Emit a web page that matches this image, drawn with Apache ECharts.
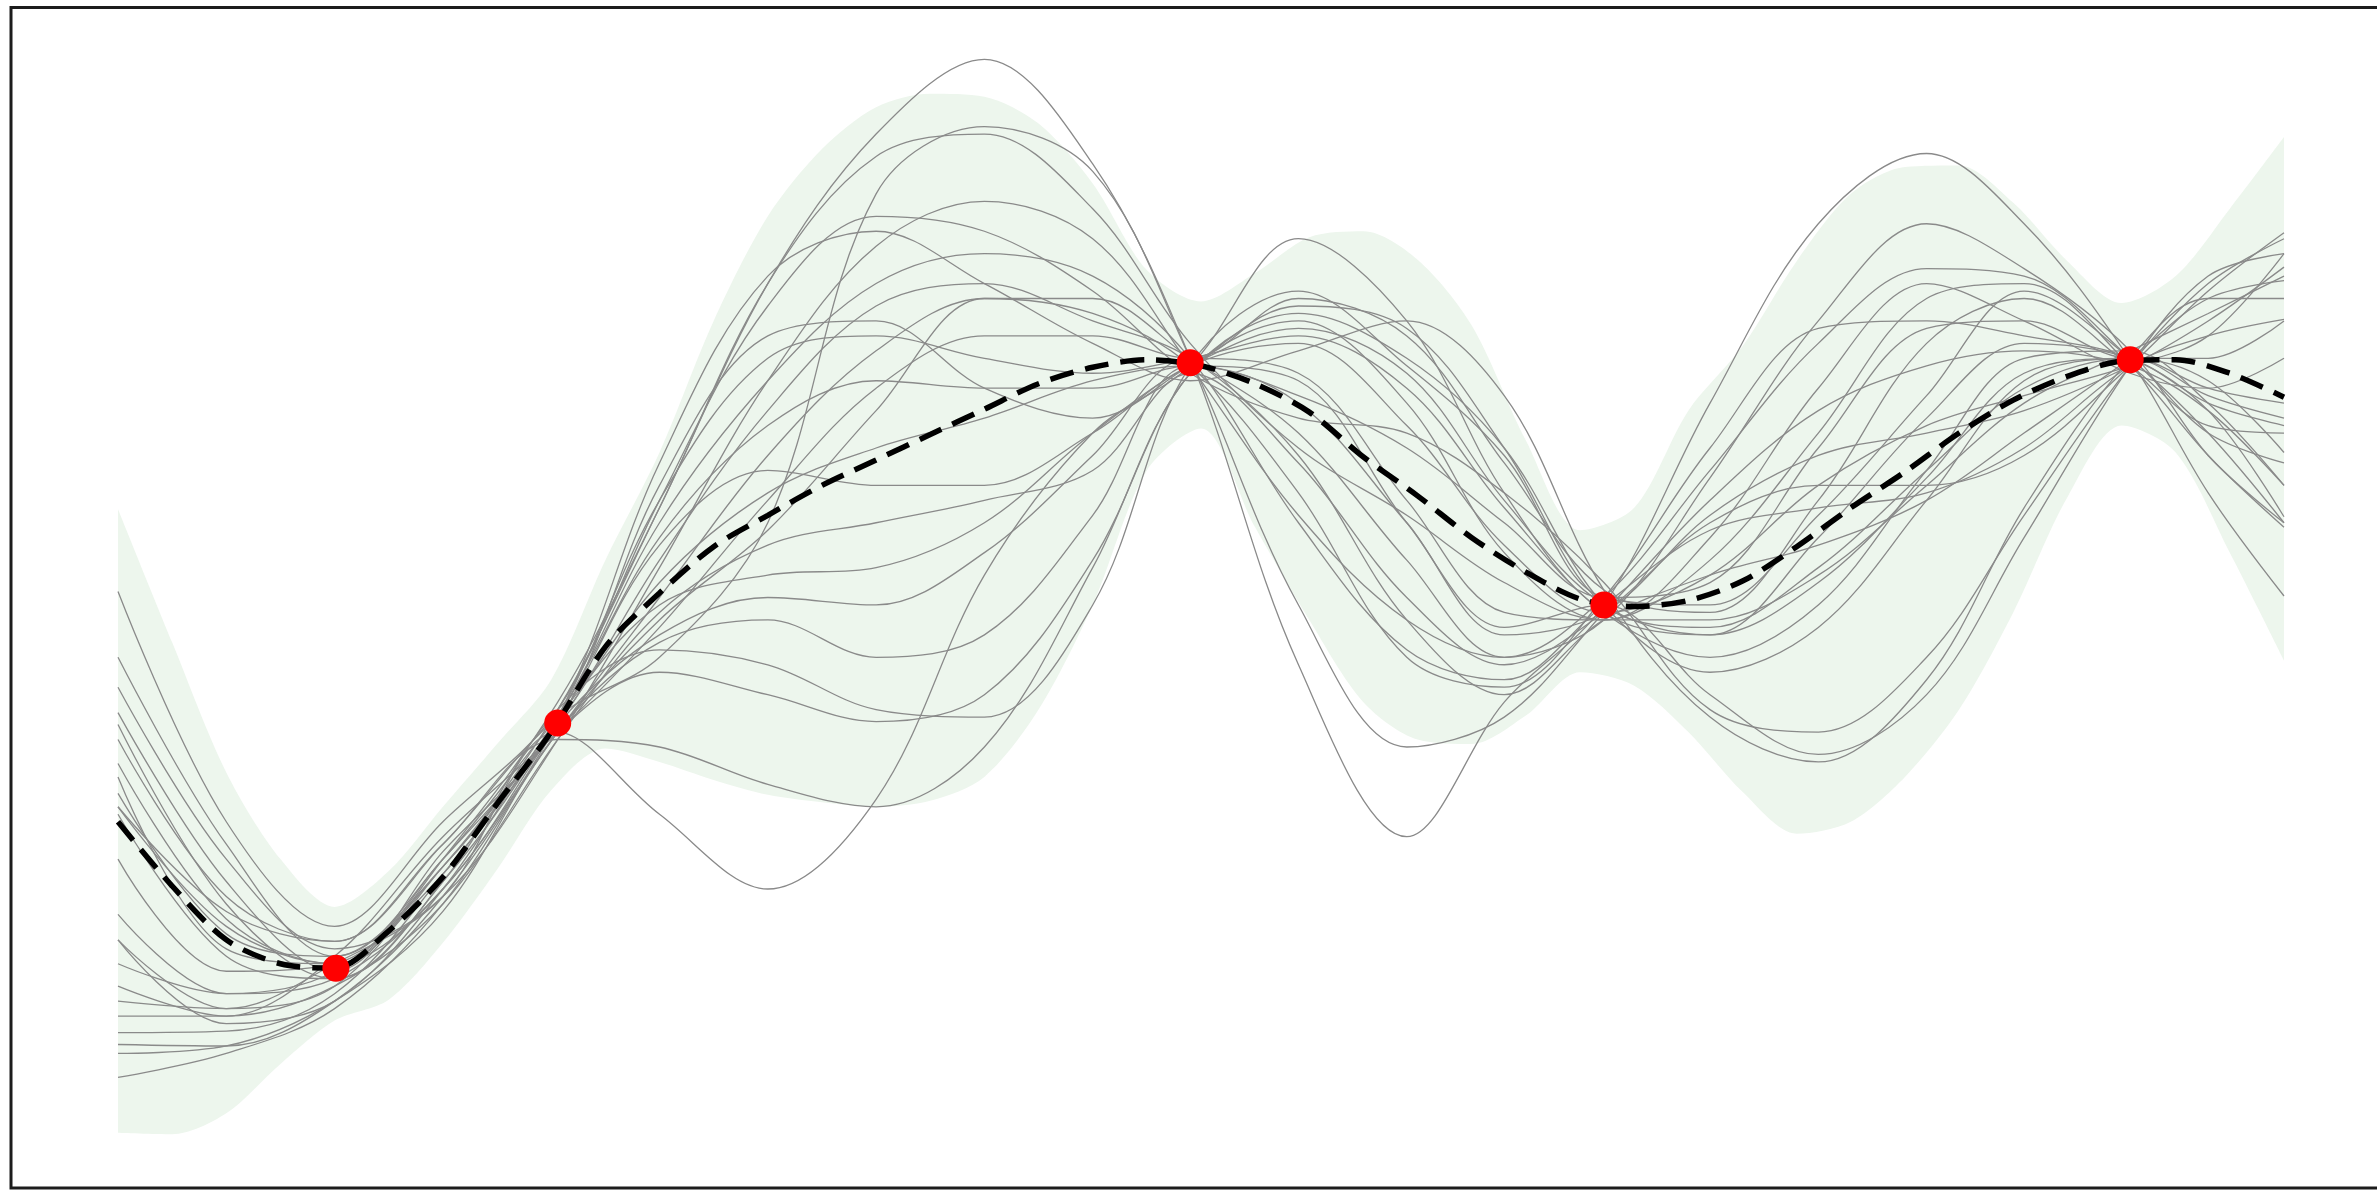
<!DOCTYPE html>
<html><head><meta charset="utf-8">
<script src="https://cdn.jsdelivr.net/npm/echarts@6/dist/echarts.min.js"></script>
<style>html,body{margin:0;padding:0;background:#fff;overflow:hidden}#c{width:2377px;height:1191px}</style>
</head><body><div id="c"></div>
<script>
// observations
const obsX = [1.006, 2.03, 4.95, 6.86, 9.29];
const obsY = [-2.03, -0.39, 2.02, 0.40, 2.04];

// dense grid for mean and band
const gridX = [0,0.25,0.5,0.75,1,1.25,1.5,1.75,2,2.25,2.5,2.75,3,3.25,3.5,3.75,4,4.25,4.5,4.75,5,5.25,5.5,5.75,6,6.25,6.5,6.75,7,7.25,7.5,7.75,8,8.25,8.5,8.75,9,9.25,9.5,9.75,10];
const meanY = [-1.05,-1.48,-1.84,-2.00,-2.03,-1.78,-1.42,-0.93,-0.45,0.12,0.48,0.79,1.00,1.20,1.37,1.54,1.71,1.88,1.99,2.04,2.00,1.88,1.69,1.39,1.13,0.85,0.62,0.44,0.39,0.43,0.56,0.79,1.05,1.29,1.55,1.77,1.93,2.03,2.04,1.95,1.79];
const bandUpper = [1.04,0.15,-0.72,-1.30,-1.62,-1.38,-0.95,-0.53,-0.10,0.70,1.42,2.30,3.00,3.45,3.73,3.82,3.80,3.62,3.22,2.64,2.43,2.62,2.86,2.90,2.71,2.27,1.50,0.90,1.05,1.70,2.13,2.70,3.15,3.33,3.34,3.09,2.70,2.42,2.60,3.05,3.53];
const bandLower = [-3.13,-3.14,-3.00,-2.67,-2.38,-2.24,-1.86,-1.37,-0.84,-0.56,-0.65,-0.77,-0.87,-0.92,-0.95,-0.91,-0.75,-0.30,0.40,1.30,1.58,0.92,0.30,-0.25,-0.50,-0.53,-0.34,-0.05,-0.14,-0.45,-0.85,-1.13,-1.05,-0.75,-0.30,0.35,1.12,1.60,1.42,0.75,0.03];

// sample paths (grey)
const sampleX = [0,0.5,1.0,1.5,2.03,2.5,3.0,3.5,4.0,4.5,4.95,5.45,5.95,6.4,6.86,7.35,7.85,8.35,8.8,9.29,9.65,10];
const s1  = [-0.95,-1.75,-2.00,-1.35,-0.30,1.05,2.55,3.55,4.05,3.35,2.05,0.00,-1.15,-0.25,0.40,1.75,2.95,3.42,2.95,2.04,1.15,0.46];
const s2  = [-0.50,-1.55,-1.85,-1.20,-0.35,0.05,0.95,3.15,3.60,3.30,2.05,0.40,-0.55,-0.35,0.35,1.10,1.70,2.00,2.10,2.00,1.70,1.20];
const s3  = [-1.84,-2.30,-2.15,-1.30,-0.25,1.05,2.55,3.40,3.55,3.05,2.15,1.45,1.00,0.55,0.30,0.30,0.60,1.20,1.75,2.10,2.35,2.60];
const s4  = [-0.15,-1.30,-1.90,-1.55,-0.50,0.65,1.90,2.80,3.10,2.85,2.00,1.00,0.30,0.05,0.45,1.30,2.15,2.65,2.60,2.05,1.55,0.95];
const s5  = [0.49,-1.05,-1.75,-1.05,-0.30,1.10,2.40,3.00,2.90,2.50,1.95,1.65,1.55,1.15,0.55,-0.30,-0.45,0.05,1.00,2.00,2.55,2.85];
const s6  = [-2.46,-2.45,-2.20,-1.40,-0.35,1.35,2.60,2.90,2.55,2.15,1.90,2.10,2.30,1.80,0.50,-0.35,-0.65,-0.10,1.05,2.05,2.45,2.45];
const s7  = [-2.76,-2.60,-2.30,-1.60,-0.45,0.30,0.90,1.70,2.45,2.45,2.05,1.55,0.70,0.05,0.30,1.25,2.30,2.95,2.65,2.10,1.40,0.95];
const s8  = [-0.32,-1.45,-2.05,-1.25,-0.40,1.20,2.20,2.30,1.85,1.65,2.00,2.40,2.25,1.45,0.40,0.25,0.65,1.30,1.85,2.05,1.90,1.42];
const s9  = [-1.00,-1.95,-2.10,-1.45,-0.35,1.10,2.05,2.20,2.05,1.95,2.05,2.20,1.85,1.05,0.35,0.05,0.40,1.30,2.05,2.10,1.75,1.20];
const s10 = [-2.15,-2.35,-1.95,-1.15,-0.45,0.25,1.10,1.85,2.20,2.20,2.05,2.45,2.20,1.35,0.50,0.35,1.10,2.15,2.45,2.00,1.60,1.55];
const s11 = [-0.66,-1.70,-2.00,-1.50,-0.40,0.55,1.15,1.45,1.65,1.90,2.00,1.80,1.45,0.95,0.45,0.55,1.45,2.25,2.30,2.05,2.05,2.30];
const s12 = [-2.54,-2.55,-2.25,-1.55,-0.40,0.80,1.30,1.20,1.20,1.55,2.00,2.15,1.60,0.80,0.35,0.60,1.20,1.60,1.80,2.00,2.20,2.75];
const s13 = [-0.86,-1.80,-1.95,-1.30,-0.35,0.40,0.60,0.65,0.95,1.55,2.00,2.25,1.95,1.10,0.40,0.20,0.55,1.25,1.95,2.05,1.80,1.65];
const s14 = [-1.67,-2.20,-2.05,-1.40,-0.45,-0.05,-0.20,-0.38,-0.20,0.70,1.95,2.35,2.05,1.45,0.40,-0.05,0.25,1.10,1.90,2.05,1.85,1.75];
const s15 = [-0.95,-1.65,-1.85,-1.20,-0.50,-0.55,-0.80,-0.95,-0.55,0.65,1.95,2.30,1.75,0.75,0.30,0.70,1.55,2.45,2.55,2.00,1.40,0.92];
const s16 = [-2.25,-2.30,-2.00,-1.55,-0.45,-1.00,-1.50,-0.90,0.60,1.55,2.00,2.85,2.30,1.15,0.35,0.20,0.85,1.65,2.15,2.05,1.75,1.60];
const s17 = [-0.40,-1.60,-2.10,-1.45,-0.30,0.10,0.00,-0.30,-0.35,0.40,2.00,2.50,2.00,1.40,0.45,0.40,1.00,1.80,2.50,2.05,1.55,1.35];
const s18 = [-1.84,-2.40,-2.25,-1.50,-0.40,0.20,0.45,0.40,0.75,1.40,2.05,1.95,1.10,0.35,0.30,0.85,1.85,2.55,2.30,1.95,1.85,2.05];
const s19 = [0.05,-1.20,-1.95,-1.35,-0.35,0.85,1.60,1.90,1.85,1.85,2.00,1.75,0.95,0.20,0.35,1.00,1.40,1.55,1.70,2.00,2.30,2.66];
const s20 = [-2.35,-2.35,-2.15,-1.60,-0.50,0.35,0.80,0.95,1.10,1.30,1.95,1.35,0.45,0.00,0.35,0.95,1.20,1.20,1.40,2.00,2.50,2.89];
const s21 = [-2.00,-2.20,-2.10,-1.50,-0.45,0.45,1.40,2.10,2.45,2.35,2.00,1.15,0.05,-0.15,0.45,1.45,2.25,2.30,2.20,2.05,1.70,0.99];
const s22 = [-0.75,-1.90,-2.00,-1.30,-0.40,0.70,1.70,2.40,2.55,2.30,2.05,1.40,0.30,-0.20,0.30,0.60,0.80,1.10,1.55,2.05,2.45,2.57];
const s23 = [-1.30,-2.05,-2.00,-1.35,-0.35,0.95,1.90,2.55,2.75,2.60,2.05,0.95,0.10,-0.10,0.40,0.90,1.05,1.15,1.45,2.00,2.20,2.31];
const s24 = [-2.60,-2.55,-2.25,-1.65,-0.45,0.15,0.30,0.05,0.20,1.00,2.00,1.90,0.95,0.25,0.40,-0.20,-0.60,-0.20,0.85,2.00,2.60,2.75];
const samples = [s1,s2,s3,s4,s5,s6,s7,s8,s9,s10,s11,s12,s13,s14,s15,s16,s17,s18,s19,s20,s21,s22,s23,s24];

const chart = echarts.init(document.getElementById('c'), null, {renderer:'canvas'});
const series = [];
// band: green fill from upper edge down to axis bottom, then white fill from lower edge down
series.push({
  type:'line', smooth:0.3, symbol:'none', silent:true, z:1,
  lineStyle:{opacity:0}, areaStyle:{color:'#edf6ed', opacity:1, origin:'start'},
  data: gridX.map((x,i)=>[x, bandUpper[i]])
});
series.push({
  type:'line', smooth:0.3, symbol:'none', silent:true, z:2,
  lineStyle:{opacity:0}, areaStyle:{color:'#ffffff', opacity:1, origin:'start'},
  data: gridX.map((x,i)=>[x, bandLower[i]])
});
samples.forEach(s=>{
  series.push({
    type:'line', smooth:0.35, symbol:'none', silent:true, z:3,
    lineStyle:{color:'#8a8a8a', width:1.3},
    data: sampleX.map((x,i)=>[x, s[i]])
  });
});
series.push({
  type:'line', smooth:0.3, symbol:'none', silent:true, z:5,
  lineStyle:{color:'#000', width:5.5, type:[24,12], cap:'butt'},
  data: gridX.map((x,i)=>[x, meanY[i]])
});
series.push({
  type:'scatter', symbol:'circle', symbolSize:27, z:6, silent:true,
  itemStyle:{color:'#ff0000', opacity:1},
  data: obsX.map((x,i)=>[x, obsY[i]])
});

chart.setOption({
  animation:false,
  backgroundColor:'#ffffff',
  grid:{left:118, right:93, top:7, bottom:3, containLabel:false},
  xAxis:{type:'value', min:0, max:10, show:false},
  yAxis:{type:'value', min:-3.5, max:4.4, show:false},
  graphic:[{type:'rect', silent:true, z:100,
    shape:{x:11, y:7.5, width:2500, height:1180.5},
    style:{fill:'transparent', stroke:'#1c1c1c', lineWidth:3}}],
  series: series
});
</script></body></html>
